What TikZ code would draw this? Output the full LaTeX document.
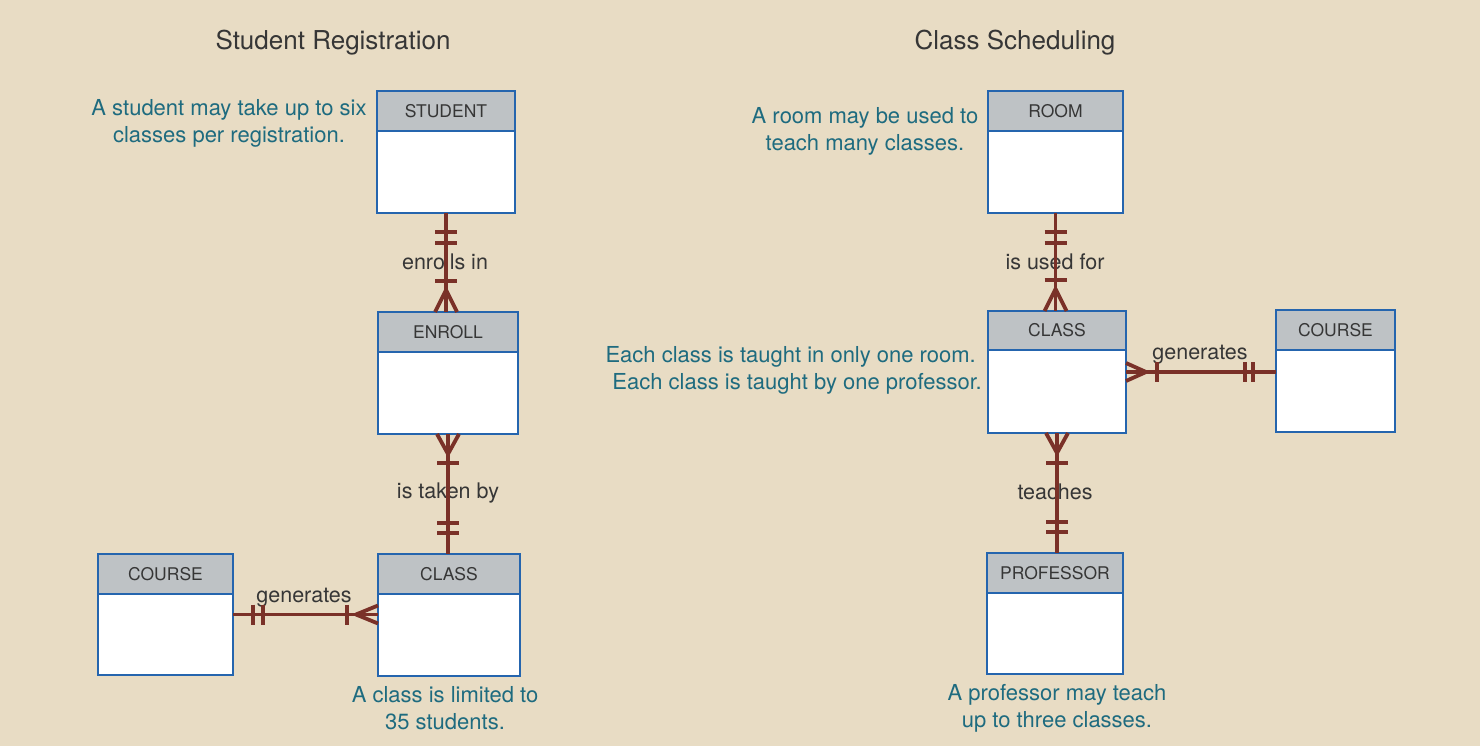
\documentclass[tikz,border=0pt]{standalone}
\usepackage{fontspec}
\setmainfont{TeX Gyre Heros}
\usetikzlibrary{calc}
\definecolor{bg}{HTML}{E8DCC4}
\definecolor{boxblue}{HTML}{2565AE}
\definecolor{hdrgray}{HTML}{BEC2C5}
\definecolor{annot}{HTML}{1E6B7F}
\definecolor{relc}{HTML}{7A3128}
\definecolor{lbl}{HTML}{363636}
\begin{document}
\begin{tikzpicture}[x=1pt,y=-1pt,
  entity/.style={draw=boxblue, line width=2.5pt, fill=white, inner sep=0pt, outer sep=0pt},
  hdr/.style={draw=boxblue, line width=2.5pt, fill=hdrgray, minimum height=40pt, inner sep=0pt, outer sep=0pt, text=lbl, font=\fontsize{17.5pt}{20pt}\selectfont},
  conn/.style={draw=relc, line width=3.8pt},
  bar/.style={draw=relc, line width=3.4pt},
  crow/.style={draw=relc, line width=3.8pt, line join=round},
  rlabel/.style={text=lbl, font=\fontsize{21.5pt}{25pt}\selectfont, inner sep=0pt},
  note/.style={text=annot, align=center, font=\fontsize{22pt}{27pt}\selectfont, inner sep=0pt},
  title/.style={text=lbl, font=\fontsize{26pt}{30pt}\selectfont, inner sep=0pt}]
\useasboundingbox[fill=bg] (0,0) rectangle (1480,746);

% titles
\node[title] (t1) at (333,43) {Student Registration};
\node[title] (t2) at (1015,43) {Class Scheduling};

% entities
\node[entity, minimum width=138pt, minimum height=122pt] (student) at (446,152) {};
\node[hdr, minimum width=138pt, anchor=north] (studentH) at (student.north) {STUDENT};
\node[entity, minimum width=140pt, minimum height=122pt] (enroll) at (448,373) {};
\node[hdr, minimum width=140pt, anchor=north] (enrollH) at (enroll.north) {ENROLL};
\node[entity, minimum width=142pt, minimum height=122pt] (classL) at (449,615) {};
\node[hdr, minimum width=142pt, anchor=north] (classLH) at (classL.north) {CLASS};
\node[entity, minimum width=135pt, minimum height=121pt] (courseL) at (165.5,614.5) {};
\node[hdr, minimum width=135pt, anchor=north] (courseLH) at (courseL.north) {COURSE};
\node[entity, minimum width=135pt, minimum height=122pt] (room) at (1055.5,152) {};
\node[hdr, minimum width=135pt, anchor=north] (roomH) at (room.north) {ROOM};
\node[entity, minimum width=138pt, minimum height=122pt] (classR) at (1057,372) {};
\node[hdr, minimum width=138pt, anchor=north, minimum height=39pt] (classRH) at (classR.north) {CLASS};
\node[entity, minimum width=119pt, minimum height=122pt] (courseR) at (1335.5,371) {};
\node[hdr, minimum width=119pt, anchor=north] (courseRH) at (courseR.north) {COURSE};
\node[entity, minimum width=136pt, minimum height=121pt] (professor) at (1055,613.5) {};
\node[hdr, minimum width=136pt, anchor=north] (professorH) at (professor.north) {PROFESSOR};

% relationship labels
\node[rlabel] (l1) at (445,262) {enrolls in};
\node[rlabel] (l2) at (448,493) {is taken by};
\node[rlabel] (l3) at (304,598) {generates};
\node[rlabel] (l4) at (1055,262) {is used for};
\node[rlabel] (l5) at (1200,355) {generates};
\node[rlabel] (l6) at (1055,492) {teaches};

% connector end points
\coordinate (c1a) at (student.south);
\coordinate (c1b) at (student.south |- enroll.north);
\coordinate (c2a) at (enroll.south);
\coordinate (c2b) at (enroll.south |- classL.north);
\coordinate (c3a) at (courseL.east);
\coordinate (c3b) at (courseL.east -| classL.west);
\coordinate (c4a) at (room.south);
\coordinate (c4b) at (room.south |- classR.north);
\coordinate (c5a) at (classR.east);
\coordinate (c5b) at (classR.east -| courseR.west);
\coordinate (c6a) at (classR.south);
\coordinate (c6b) at (classR.south |- professor.north);

% STUDENT -- ENROLL
\draw[conn] (c1a) -- (c1b);
\draw[bar] ($(c1a)+(-11,19)$) -- +(22,0);
\draw[bar] ($(c1a)+(-11,30)$) -- +(22,0);
\draw[bar] ($(c1b)+(-11,-31)$) -- +(22,0);
\draw[crow] ($(c1b)+(-11,0)$) -- ($(c1b)+(0,-22)$) -- ($(c1b)+(11,0)$);

% ENROLL -- CLASS
\draw[conn] (c2a) -- (c2b);
\draw[crow] ($(c2a)+(-11,0)$) -- ($(c2a)+(0,20)$) -- ($(c2a)+(11,0)$);
\draw[bar] ($(c2a)+(-11,29)$) -- +(22,0);
\draw[bar] ($(c2b)+(-11,-31)$) -- +(22,0);
\draw[bar] ($(c2b)+(-11,-21)$) -- +(22,0);

% COURSE -- CLASS (left)
\draw[conn] (c3a) -- (c3b);
\draw[bar] ($(c3a)+(20,-10)$) -- +(0,20);
\draw[bar] ($(c3a)+(30,-10)$) -- +(0,20);
\draw[bar] ($(c3b)+(-31,-10)$) -- +(0,20);
\draw[crow] ($(c3b)+(0,-9)$) -- ($(c3b)+(-22,0)$) -- ($(c3b)+(0,9)$);

% ROOM -- CLASS
\draw[conn] (c4a) -- (c4b);
\draw[bar] ($(c4a)+(-11,19)$) -- +(22,0);
\draw[bar] ($(c4a)+(-11,30)$) -- +(22,0);
\draw[bar] ($(c4b)+(-11,-31)$) -- +(22,0);
\draw[crow] ($(c4b)+(-11,0)$) -- ($(c4b)+(0,-22)$) -- ($(c4b)+(11,0)$);

% CLASS -- COURSE (right)
\draw[conn] (c5a) -- (c5b);
\draw[crow] ($(c5a)+(0,-9)$) -- ($(c5a)+(20,0)$) -- ($(c5a)+(0,9)$);
\draw[bar] ($(c5a)+(31,-10)$) -- +(0,20);
\draw[bar] ($(c5b)+(-31,-10)$) -- +(0,20);
\draw[bar] ($(c5b)+(-23,-10)$) -- +(0,20);

% CLASS -- PROFESSOR
\draw[conn] (c6a) -- (c6b);
\draw[crow] ($(c6a)+(-11,0)$) -- ($(c6a)+(0,20)$) -- ($(c6a)+(11,0)$);
\draw[bar] ($(c6a)+(-11,30)$) -- +(22,0);
\draw[bar] ($(c6b)+(-11,-31)$) -- +(22,0);
\draw[bar] ($(c6b)+(-11,-21)$) -- +(22,0);

% annotations
\node[note] (n1) at (229,123) {A student may take up to six\\classes per registration.};
\node[note] (n2) at (865,131) {A room may be used to\\teach many classes.};
\node[note, anchor=east] (n3) at (976,357) {Each class is taught in only one room.};
\node[note, anchor=east] (n4) at (982,384) {Each class is taught by one professor.};
\node[note] (n5) at (445,708) {A class is limited to\\35 students.};
\node[note] (n6) at (1057,708) {A professor may teach\\up to three classes.};
\end{tikzpicture}
\end{document}
